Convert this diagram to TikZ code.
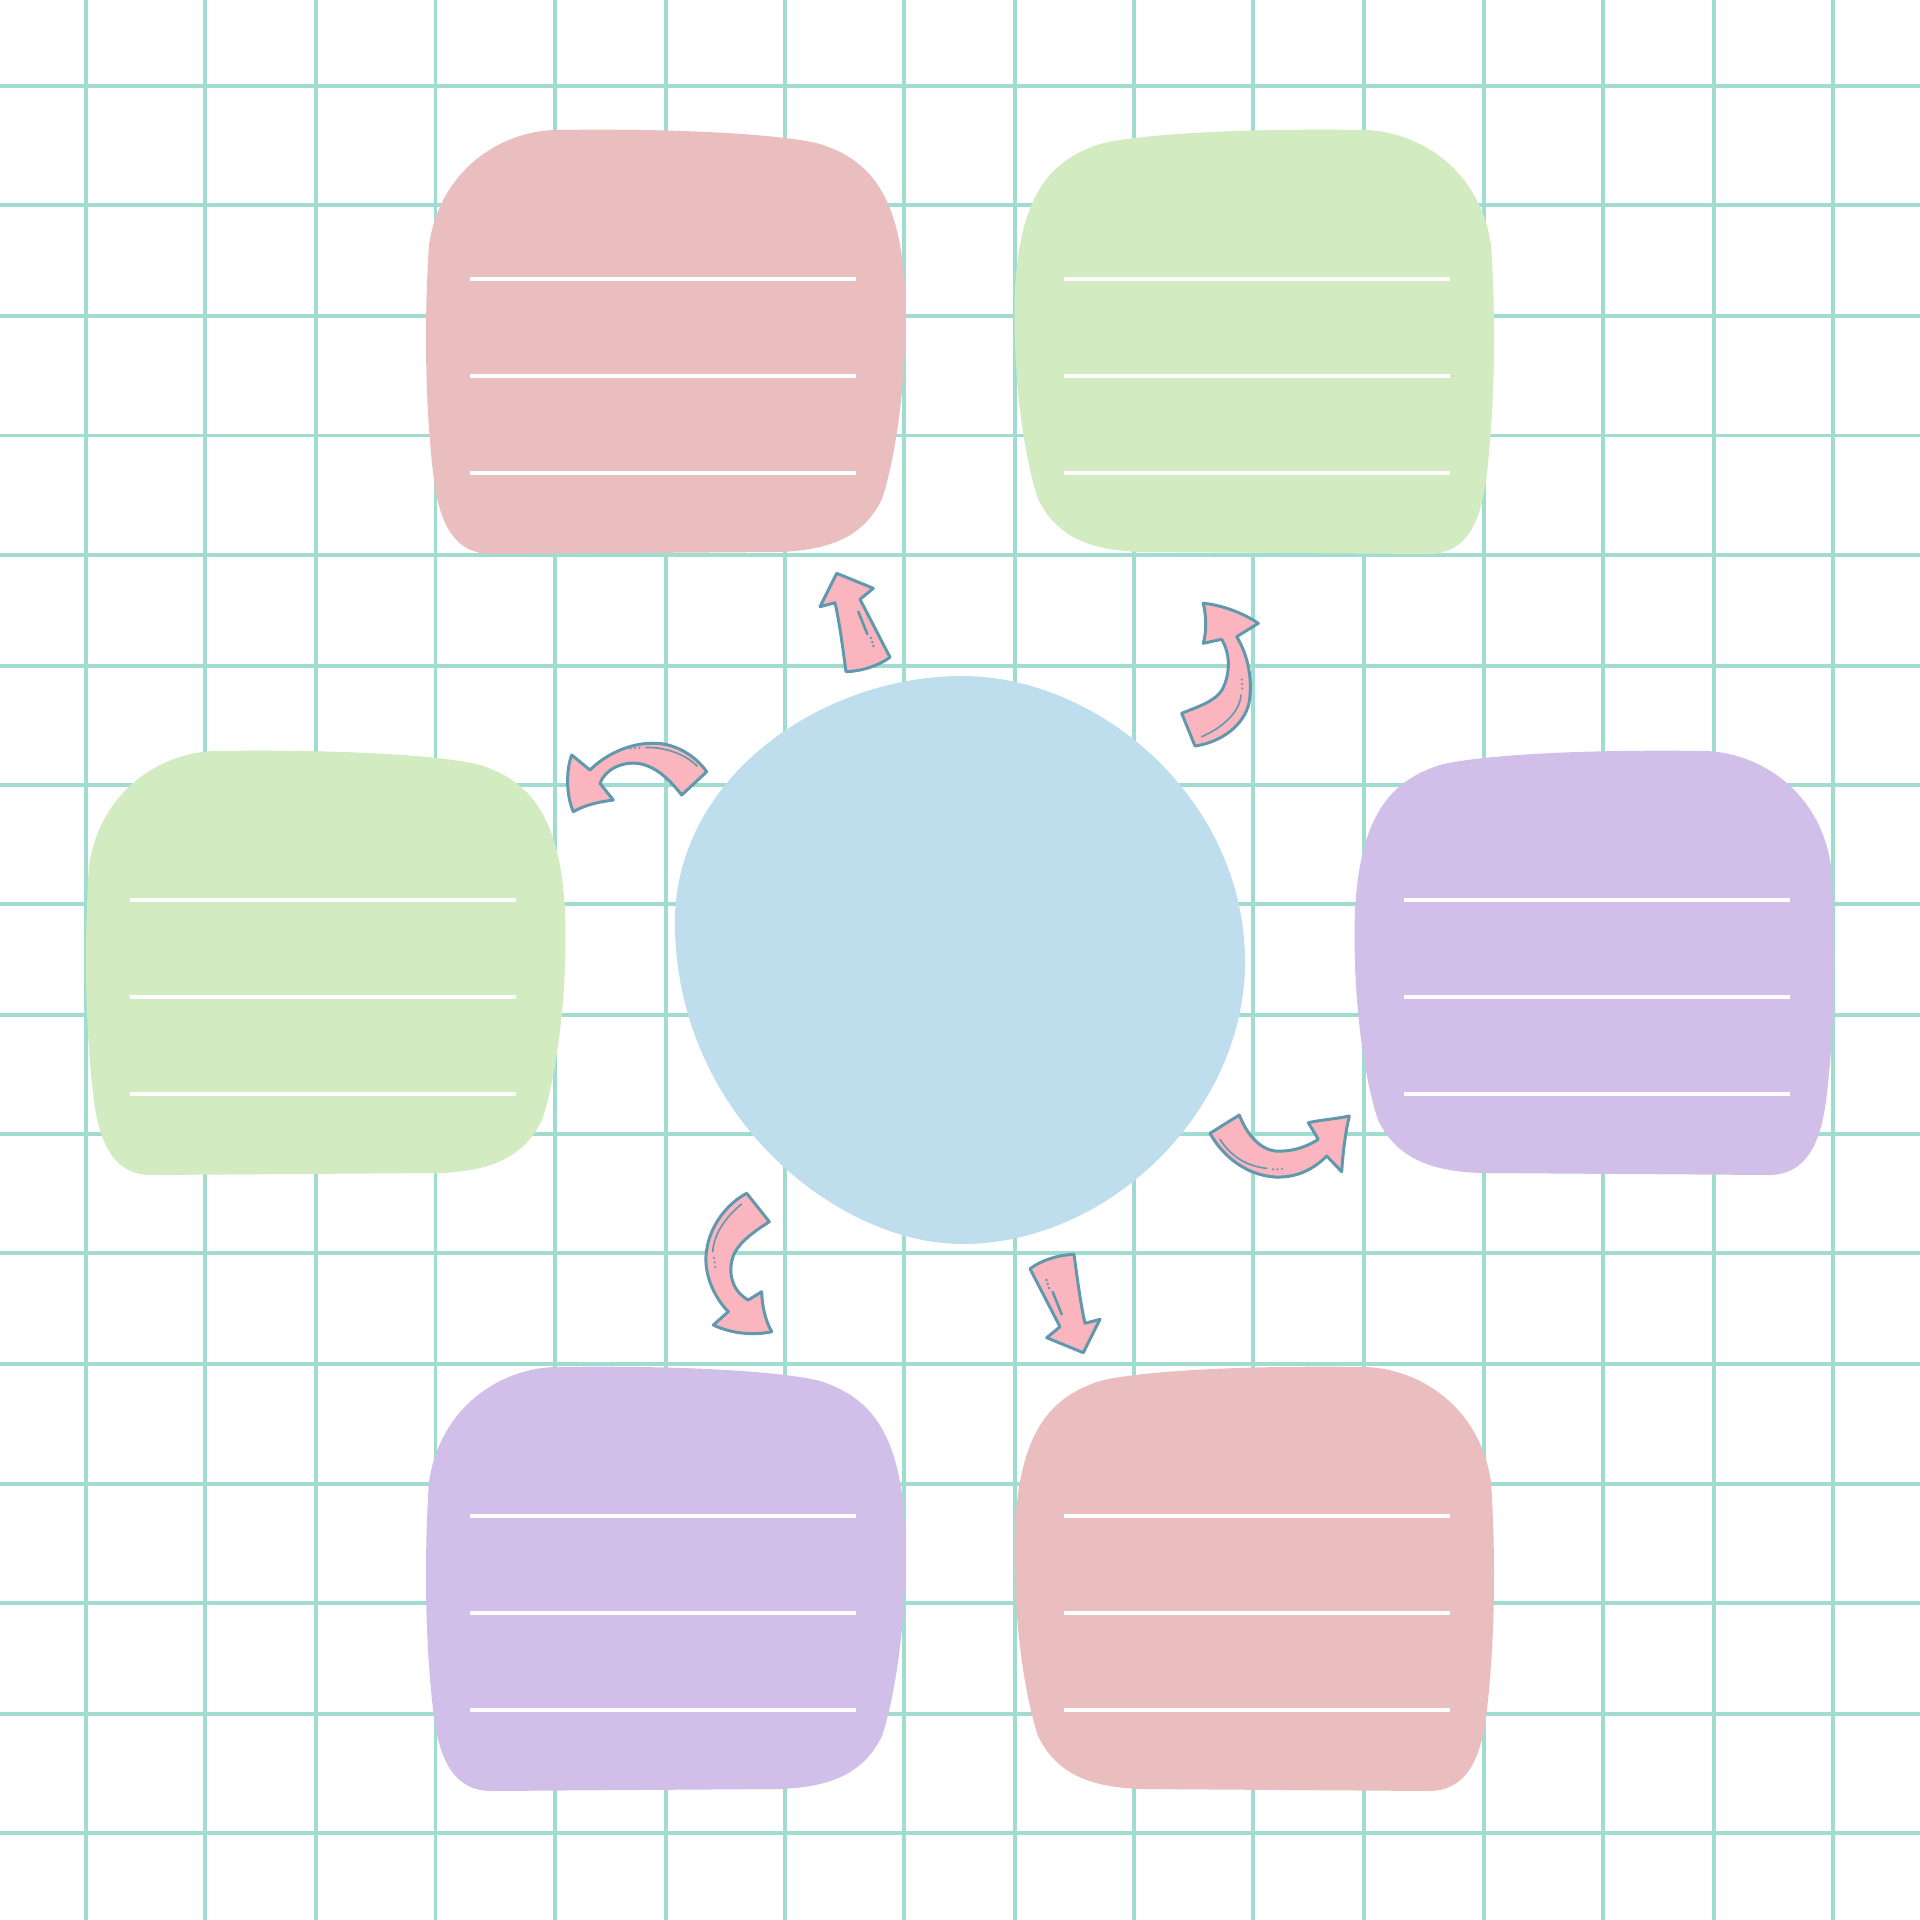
\documentclass[tikz,border=0pt]{standalone}
\definecolor{gridmint}{RGB}{160, 221, 208}
\definecolor{cardpink}{RGB}{234, 190, 191}
\definecolor{cardgreen}{RGB}{211, 235, 192}
\definecolor{cardlilac}{RGB}{209, 190, 233}
\definecolor{centreblue}{RGB}{190, 222, 237}
\definecolor{arrowpink}{RGB}{251, 181, 190}
\definecolor{arrowteal}{RGB}{96, 152, 173}

\begin{document}
\begin{tikzpicture}[
        x=0.1mm, y=-0.1mm,
        gridline/.style={draw=gridmint, line width=0.95pt},
        ruleline/.style={draw=white, line width=1.15pt},
        arrowbody/.style={fill=arrowpink, draw=arrowteal, line width=0.85pt, line join=round},
        shine/.style={draw=arrowteal, line width=0.45pt, line cap=round},
        card/.pic={
            \fill[#1] (128,0) .. controls (274,-2) and (364,6) .. (394,14)
                .. controls (444,30) and (474,65) .. (479,160)
                .. controls (482,250) and (469,330) .. (456,369)
                .. controls (436,410) and (399,420) .. (354,422)
                -- (64,424)
                .. controls (29,423) and (14,395) .. (8,350)
                .. controls (-1,280) and (-2,190) .. (3,115)
                .. controls (14,40) and (74,2) .. (128,0) -- cycle;
            \foreach \ly in {149,246,343}
                \draw[ruleline] (44,\ly) -- (430,\ly);
        },
        pointer/.pic={
            \draw[arrowbody] (836.7,573.3) -- (873.3,588.3) -- (860,599.3) -- (890,657.3)
                .. controls (878,666) and (862,671) .. (846,671.7)
                .. controls (843,650) and (840,625) .. (835,602.7) -- (820,606.7) -- cycle;
            \draw[shine, line width=0.75pt] (858.3,611.7) -- (867.3,634);
            \foreach \dx/\dy in {871/638, 872.2/642, 873.4/646}
                \fill[arrowteal] (\dx,\dy) circle[radius=1.4];
        }
    ]

    \useasboundingbox (0,0) rectangle (1920,1920);
    \fill[white] (0,0) rectangle (1920,1920);

    \foreach \g in {86,205,316,435.5,555,666,785,904,1015,1134,1253,1364,1484,1603,1714,1833} {
        \draw[gridline] (\g,0) -- (\g,1920);
        \draw[gridline] (0,\g) -- (1920,\g);
    }

    \pic at (426,130) {card=cardpink};
    \pic[xscale=-1] at (1494,130) {card=cardgreen};
    \pic at (86,751) {card=cardgreen};
    \pic[xscale=-1] at (1834,751) {card=cardlilac};
    \pic at (426,1367) {card=cardlilac};
    \pic[xscale=-1] at (1494,1367) {card=cardpink};

    \fill[centreblue] (962,676) .. controls (1100,676) and (1245,800) .. (1245,962)
        .. controls (1245,1110) and (1110,1244) .. (962,1244)
        .. controls (840,1244) and (680,1120) .. (675,930)
        .. controls (670,780) and (820,676) .. (962,676) -- cycle;

    \pic at (0,0) {pointer};
    \pic[rotate around={180:(960,963)}] at (0,0) {pointer};

    \draw[arrowbody] (1203.3,603.3) .. controls (1222,605) and (1243,613) .. (1258.3,623.3)
        -- (1236.7,636.7) .. controls (1248,655) and (1253,680) .. (1249,703)
        .. controls (1244,725) and (1222,742) .. (1195,746)
        -- (1181.7,713.3) .. controls (1200,706) and (1215,701) .. (1222,690)
        .. controls (1230,675) and (1231,655) .. (1221.7,639.3)
        -- (1203.3,643.3) .. controls (1207,630) and (1206,615) .. (1203.3,603.3) -- cycle;
    \draw[shine] (1201.7,736.7) .. controls (1222,728) and (1240,712) .. (1241,695);
    \foreach \dx/\dy in {1241.7/679.5, 1242/684, 1242.3/688.5}
        \fill[arrowteal] (\dx,\dy) circle[radius=1.1];

    \draw[arrowbody] (571.7,755) -- (590,770)
        .. controls (605,755) and (630,742) .. (656.7,743.3)
        .. controls (675,744) and (695,755) .. (706.7,771.7)
        -- (681.7,795) .. controls (670,780) and (655,765) .. (636.7,763.3)
        .. controls (620,762) and (605,770) .. (600,783.3)
        -- (613.3,800) .. controls (598,802) and (585,805) .. (573.3,811.7)
        .. controls (566,795) and (566,770) .. (571.7,755) -- cycle;
    \draw[shine] (646,747.5) .. controls (665,747) and (685,754) .. (697,766);
    \foreach \dx/\dy in {630.5/748.6, 635/748.2, 639.5/747.8}
        \fill[arrowteal] (\dx,\dy) circle[radius=1.1];

    \draw[arrowbody] (1239.3,1115) -- (1210,1133.3)
        .. controls (1222,1155) and (1245,1175) .. (1275,1177)
        .. controls (1298,1178) and (1315,1168) .. (1326.7,1156)
        -- (1341.7,1171.7) .. controls (1343,1150) and (1346,1130) .. (1349.3,1116)
        .. controls (1335,1119) and (1320,1120) .. (1308.3,1122.7)
        -- (1318.3,1139.3) .. controls (1305,1148) and (1290,1152) .. (1275,1151)
        .. controls (1260,1149) and (1247,1135) .. (1239.3,1115) -- cycle;
    \draw[shine] (1220,1139.3) .. controls (1230,1155) and (1245,1166) .. (1266.7,1168.3);
    \foreach \dx/\dy in {1273/1169.3, 1277.5/1169.3, 1282/1169}
        \fill[arrowteal] (\dx,\dy) circle[radius=1.1];

    \draw[arrowbody] (746.7,1193.3) -- (769.3,1221.7)
        .. controls (755,1231) and (742,1240) .. (735,1252)
        .. controls (727,1268) and (730,1290) .. (748.3,1300)
        -- (761.7,1291.7) .. controls (762,1305) and (765,1320) .. (771.7,1331.7)
        .. controls (752,1336) and (730,1333) .. (713.3,1325)
        -- (728.3,1311.7) .. controls (712,1295) and (703,1270) .. (706.7,1250)
        .. controls (710,1225) and (728,1203) .. (746.7,1193.3) -- cycle;
    \draw[shine] (741.7,1204) .. controls (728,1215) and (714,1232) .. (712.7,1251.7);
    \foreach \dx/\dy in {714/1258, 714.7/1262.5, 715.3/1267}
        \fill[arrowteal] (\dx,\dy) circle[radius=1.1];
\end{tikzpicture}
\end{document}
